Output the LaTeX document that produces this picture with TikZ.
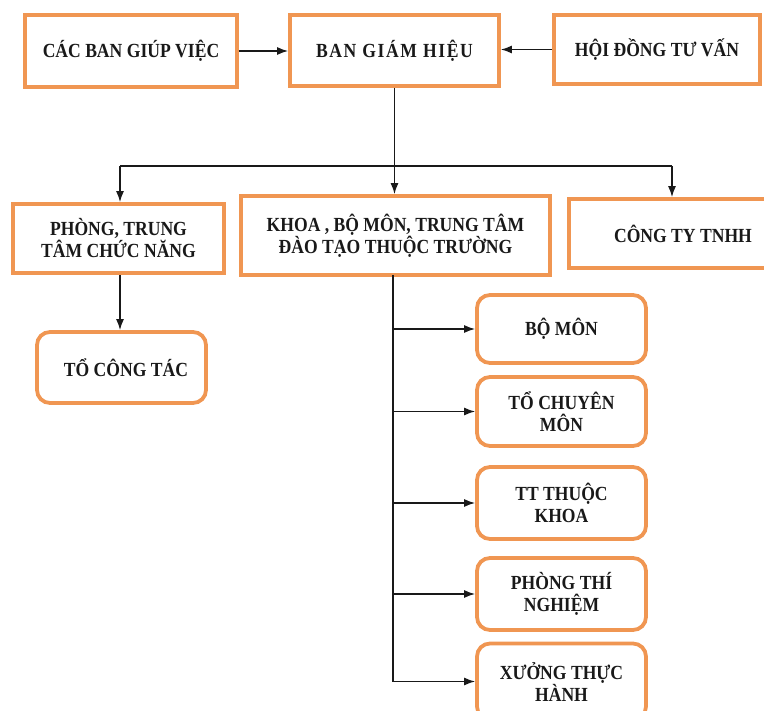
\documentclass[tikz,border=0pt]{standalone}
\usepackage{fontspec}
\setmainfont{Liberation Serif}[FakeStretch=0.88]
\usetikzlibrary{arrows.meta}
\definecolor{boxorange}{RGB}{240,150,82}
\definecolor{inkc}{RGB}{25,25,25}
\tikzset{
  box/.style={draw=boxorange, line width=3.8pt, fill=white, align=center,
    font=\fontsize{20}{22}\selectfont\bfseries, text=inkc, inner sep=0pt},
  rbox/.style={box, rounded corners=13pt},
  arr/.style={draw=inkc, line width=1.3pt, -{Latex[length=11pt,width=8pt]}},
  ln/.style={draw=inkc, line width=1.3pt}
}
\begin{document}
\begin{tikzpicture}[x=1pt,y=-1pt]
\useasboundingbox (0,0) rectangle (764,711);
\node[box, minimum width=212pt, minimum height=72pt] (cacban) at (131,51) {CÁC BAN GIÚP VIỆC};
\node[box, minimum width=209pt, minimum height=71pt] (bgh) at (394.5,50.5) {\addfontfeature{LetterSpace=8}BAN GIÁM HIỆU};
\node[box, minimum width=206pt, minimum height=69pt] (hdtv) at (657,49.5) {HỘI ĐỒNG TƯ VẤN};
\node[box, minimum width=211pt, minimum height=69pt] (phong) at (118.5,238.5) {PHÒNG, TRUNG\\TÂM CHỨC NĂNG};
\node[box, minimum width=309pt, minimum height=79pt] (khoa) at (395.5,235.5) {KHOA\ , BỘ MÔN, TRUNG TÂM\\ĐÀO TẠO THUỘC\ TRƯỜNG};
\node[box, minimum width=228pt, minimum height=69pt] (congty) at (683,233.5) {CÔNG TY TNHH};
\node[rbox, minimum width=169pt, minimum height=71pt] (tocongtac) at (121.5,367.5) {\hspace*{9pt}TỔ CÔNG TÁC};
\node[rbox, minimum width=169pt, minimum height=68pt] (bomon) at (561.5,329) {BỘ MÔN};
\node[rbox, minimum width=169pt, minimum height=69pt] (tochuyen) at (561.5,411.5) {TỔ CHUYÊN\\MÔN};
\node[rbox, minimum width=169pt, minimum height=72pt] (ttkhoa) at (561.5,503) {TT THUỘC\\KHOA};
\node[rbox, minimum width=169pt, minimum height=72pt] (ptn) at (561.5,594) {PHÒNG THÍ\\NGHIỆM};
\node[rbox, minimum width=169pt, minimum height=76pt] (xuong) at (561.5,681.5) {XƯỞNG THỰC\\HÀNH};

\draw[arr] (cacban.east) -- (cacban.east -| bgh.west);
\draw[arr] (hdtv.west) -- (hdtv.west -| bgh.east);
\draw[arr] (bgh.south) -- (bgh.south |- khoa.north);
\coordinate (jl) at (120,166);
\coordinate (jr) at (672,166);
\draw[ln] (jl) -- (jr);
\draw[arr] (jl) -- (jl |- phong.north);
\draw[arr] (jr) -- (jr |- congty.north);
\draw[arr] (phong.south -| jl) -- (jl |- tocongtac.north);
\coordinate (sp) at (393,275);
\draw[ln] (sp) -- (sp |- xuong.west);
\draw[arr] (sp |- bomon.west) -- (bomon.west);
\draw[arr] (sp |- tochuyen.west) -- (tochuyen.west);
\draw[arr] (sp |- ttkhoa.west) -- (ttkhoa.west);
\draw[arr] (sp |- ptn.west) -- (ptn.west);
\draw[arr] (sp |- xuong.west) -- (xuong.west);
\end{tikzpicture}
\end{document}
